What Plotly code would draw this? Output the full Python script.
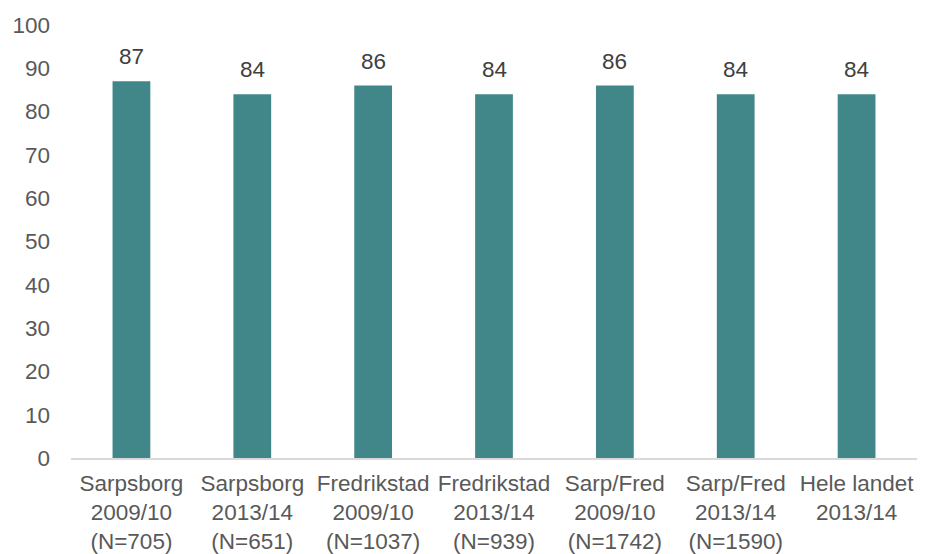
import plotly.graph_objects as go

categories = [
    "Sarpsborg<br>2009/10<br>(N=705)",
    "Sarpsborg<br>2013/14<br>(N=651)",
    "Fredrikstad<br>2009/10<br>(N=1037)",
    "Fredrikstad<br>2013/14<br>(N=939)",
    "Sarp/Fred<br>2009/10<br>(N=1742)",
    "Sarp/Fred<br>2013/14<br>(N=1590)",
    "Hele landet<br>2013/14",
]
values = [87, 84, 86, 84, 86, 84, 84]

FONT = "Liberation Sans, Arial"

fig = go.Figure(go.Bar(
    x=categories, y=values,
    marker=dict(color="#41878A", line=dict(width=0)),
    cliponaxis=False,
))
for c, v in zip(categories, values):
    fig.add_annotation(x=c, y=v, text=str(v), showarrow=False, yanchor="bottom",
                       yshift=10, font=dict(size=22.5, color="#404040", family=FONT))

fig.update_layout(
    width=917, height=546,
    margin=dict(l=63, r=8, t=17, b=96),
    paper_bgcolor="white", plot_bgcolor="white",
    bargap=0.6875,
    showlegend=False,
    font=dict(family=FONT, size=22.5, color="#595959"),
)
fig.update_xaxes(showline=True, linecolor="#D9D9D9", linewidth=1.5, ticks="", showgrid=False,
                 automargin=False,
                 tickfont=dict(size=22.5, color="#595959"), ticklabelstandoff=4)
fig.update_yaxes(range=[0, 100], dtick=10, showgrid=False, zeroline=False, showline=False,
                 automargin=False,
                 ticks="", tickfont=dict(size=22.5, color="#595959"), ticklabelstandoff=20)
fig.write_html("out.html")
